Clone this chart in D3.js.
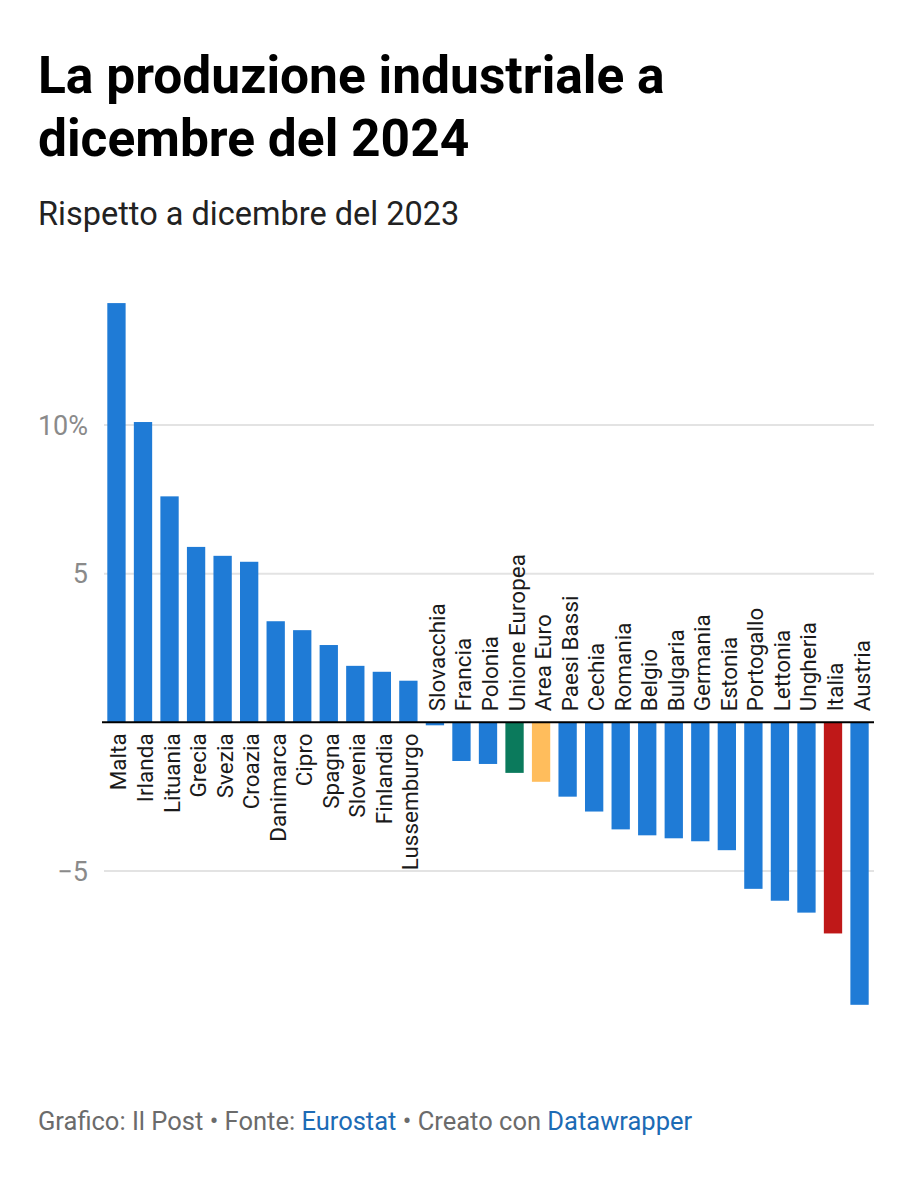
<!DOCTYPE html>
<html>
<head>
<meta charset="utf-8">
<script src="https://cdn.jsdelivr.net/npm/d3@7"></script>
<style>
    body { margin: 0; background: #fff; }
    text { font-family: Roboto, "Noto Sans", sans-serif; }
</style>
</head>
<body>
<div id="chart"></div>
<script>
// Variazione della produzione industriale, dic 2024 vs dic 2023 (%)
const countries = ["Malta", "Irlanda", "Lituania", "Grecia", "Svezia", "Croazia", "Danimarca", "Cipro",
    "Spagna", "Slovenia", "Finlandia", "Lussemburgo", "Slovacchia", "Francia", "Polonia", "Unione Europea",
    "Area Euro", "Paesi Bassi", "Cechia", "Romania", "Belgio", "Bulgaria", "Germania", "Estonia",
    "Portogallo", "Lettonia", "Ungheria", "Italia", "Austria"];
const values = [14.1, 10.1, 7.6, 5.9, 5.6, 5.4, 3.4, 3.1,
    2.6, 1.9, 1.7, 1.4, -0.1, -1.3, -1.4, -1.7,
    -2.0, -2.5, -3.0, -3.6, -3.8, -3.9, -4.0, -4.3,
    -5.6, -6.0, -6.4, -7.1, -9.5];
const yTicks = [-5, 5, 10];
const yTickLabels = ["\u22125", "5", "10%"];

const title = ["La produzione industriale a", "dicembre del 2024"];
const subtitle = "Rispetto a dicembre del 2023";

class ProductionVis {
    constructor(parentElement, data) {
        this.parentElement = parentElement;
        this.data = data;
        this.initVis();
    }

    initVis() {
        let vis = this;

        vis.svg = d3.select("#" + vis.parentElement).append("svg")
            .attr("width", 912)
            .attr("height", 1200);

        // titolo e sottotitolo
        vis.svg.selectAll(".title")
            .data(title)
            .enter()
            .append("text")
            .attr("class", "title")
            .attr("x", 38)
            .attr("y", (d, i) => 93 + i * 63)
            .style("font-size", "51.5px")
            .style("font-weight", 700)
            .style("fill", "#000")
            .text(d => d);

        vis.svg.append("text")
            .attr("x", 38)
            .attr("y", 225)
            .style("font-size", "32.5px")
            .style("fill", "#222")
            .text(subtitle);

        vis.x = d3.scaleBand()
            .domain(vis.data.map(d => d.name))
            .range([102, 874])
            .paddingInner(0.31)
            .paddingOuter(0.2);

        vis.y = d3.scaleLinear()
            .domain([-5, 10])
            .range([871, 425]);

        vis.updateVis();
    }

    updateVis() {
        let vis = this;

        const highlight = {"Unione Europea": "#0b7a5c", "Area Euro": "#ffbd5c", "Italia": "#bf1818"};

        // griglia
        vis.svg.selectAll(".grid")
            .data(yTicks)
            .enter()
            .append("line")
            .attr("class", "grid")
            .attr("x1", 104)
            .attr("x2", 874)
            .attr("y1", d => vis.y(d))
            .attr("y2", d => vis.y(d))
            .style("stroke", "#e3e3e3")
            .style("stroke-width", 2);

        vis.svg.selectAll(".ytick")
            .data(yTicks)
            .enter()
            .append("text")
            .attr("class", "ytick")
            .attr("x", 88)
            .attr("y", d => vis.y(d))
            .attr("dy", "0.36em")
            .attr("text-anchor", "end")
            .style("font-size", "27px")
            .style("fill", "#8a8a8a")
            .text((d, i) => yTickLabels[i]);

        vis.svg.selectAll(".bar")
            .data(vis.data)
            .enter()
            .append("rect")
            .attr("class", "bar")
            .attr("x", d => vis.x(d.name))
            .attr("y", d => vis.y(Math.max(0, d.value)))
            .attr("width", vis.x.bandwidth())
            .attr("height", d => Math.abs(vis.y(d.value) - vis.y(0)))
            .style("fill", d => highlight[d.name] || "#1f7bd6");

        // linea dello zero
        vis.svg.append("line")
            .attr("x1", 102)
            .attr("x2", 874)
            .attr("y1", vis.y(0))
            .attr("y2", vis.y(0))
            .style("stroke", "#000")
            .style("stroke-width", 2);

        vis.svg.selectAll(".label")
            .data(vis.data)
            .enter()
            .append("text")
            .attr("class", "label")
            .attr("transform", d => {
                let cx = vis.x(d.name) + vis.x.bandwidth() / 2 + 10;
                let yy = d.value >= 0 ? vis.y(0) + 11 : vis.y(0) - 11;
                return `translate(${cx},${yy}) rotate(-90)`;
            })
            .attr("text-anchor", d => d.value >= 0 ? "end" : "start")
            .style("font-size", "22.5px")
            .style("fill", "#1a1a1a")
            .text(d => d.name);

        // fonte
        let foot = vis.svg.append("text")
            .attr("x", 38)
            .attr("y", 1130)
            .style("font-size", "25.5px")
            .style("fill", "#6b6b6b");
        foot.append("tspan").text("Grafico: Il Post \u2022 Fonte: ");
        foot.append("tspan").style("fill", "#1c6bb5").text("Eurostat");
        foot.append("tspan").text(" \u2022 Creato con ");
        foot.append("tspan").style("fill", "#1c6bb5").text("Datawrapper");
    }
}

const data = countries.map((c, i) => ({name: c, value: values[i]}));
new ProductionVis("chart", data);
</script>
</body>
</html>
